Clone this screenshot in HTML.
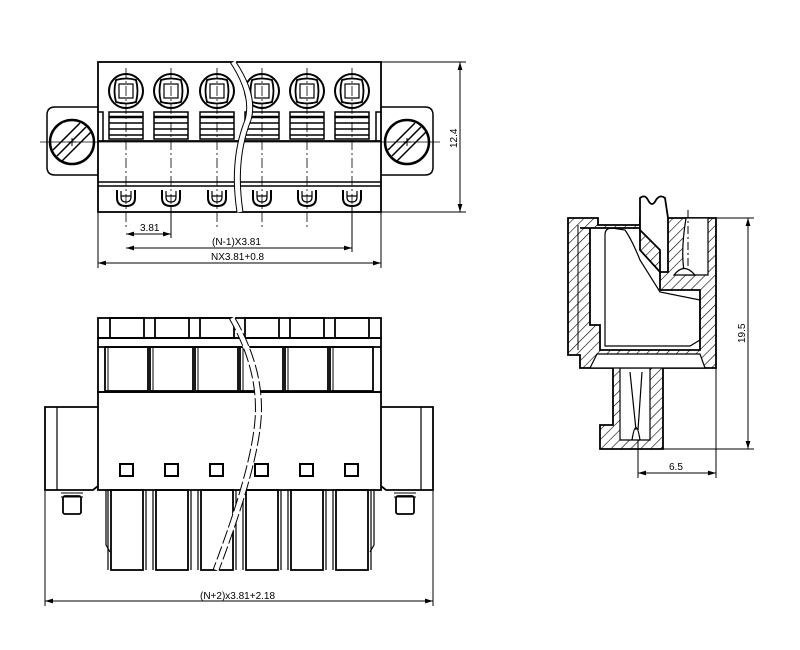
<!DOCTYPE html>
<html><head><meta charset="utf-8"><style>
html,body{margin:0;padding:0;background:#fff;}
svg{display:block;}
text{font-family:"Liberation Sans",sans-serif;font-size:10px;fill:#000;}
</style></head><body>
<svg width="800" height="650" viewBox="0 0 800 650" xmlns="http://www.w3.org/2000/svg">
<defs>
<pattern id="h" width="7" height="7" patternUnits="userSpaceOnUse" patternTransform="rotate(45)"><line x1="0" y1="0" x2="0" y2="7" stroke="#000" stroke-width="1.2"/></pattern>
<marker id="a" viewBox="0 0 10 6" refX="10" refY="3" markerWidth="8" markerHeight="5" orient="auto-start-reverse"><path d="M0,0L10,3L0,6z" fill="#000"/></marker>
<g id="topcell" fill="none" stroke="#000">
  <circle cx="0" cy="91" r="17" stroke-width="2"/>
  <path d="M-10,80 Q0,77 10,80 Q13,91 10,102 Q0,105 -10,102 Q-13,91 -10,80z" stroke-width="1.8"/>
  <rect x="-7" y="84" width="14" height="14" stroke-width="1.2"/>
  <rect x="-17" y="112" width="34" height="27" stroke-width="1.5"/>
  <line x1="-17" y1="117" x2="17" y2="117" stroke-width="2.5"/>
  <line x1="-17" y1="123" x2="17" y2="123" stroke-width="1.5"/>
  <line x1="-17" y1="129" x2="17" y2="129" stroke-width="1.5"/>
  <line x1="-17" y1="135" x2="17" y2="135" stroke-width="1.5"/>
  <path d="M-9,190 L-9,198 Q-9,206 0,206 Q9,206 9,198 L9,190" stroke-width="2"/>
  <path d="M-5,191 L-5,197 Q-5,202 0,202 Q5,202 5,197 L5,191 M-5,196 L5,196" stroke-width="1.2"/>
  <line x1="0" y1="68" x2="0" y2="230" stroke-width="0.8" stroke-dasharray="10,3,2,3"/>
</g>
<g id="botcell" fill="none" stroke="#000" stroke-width="1.8">
  <rect x="-17" y="318" width="34" height="20"/>
  <rect x="-22" y="347" width="43" height="44"/>
  <line x1="-19" y1="347" x2="-19" y2="391" stroke-width="1"/>
  <rect x="-7" y="464" width="13" height="12" stroke-width="2"/>
  <rect x="-16" y="490" width="32" height="80"/>
  <line x1="-19" y1="490" x2="-19" y2="570" stroke-width="1.2"/>
  <line x1="19" y1="490" x2="19" y2="570" stroke-width="1.2"/>
</g>
</defs>

<!-- TOP VIEW -->
<g fill="none" stroke="#000">
  <path d="M98,107 L55,107 Q47,107 47,115 L47,167 Q47,175 55,175 L98,175" stroke-width="1.5"/>
  <path d="M381,107 L425,107 Q433,107 433,115 L433,167 Q433,175 425,175 L381,175" stroke-width="1.5"/>
  <circle cx="72" cy="142" r="22" stroke-width="2.5"/>
  <circle cx="407" cy="142" r="22" stroke-width="2.5"/>
  <path d="M57,156 L86,127 M62,161 L91,132 M53,150 L80,123" stroke-width="1.5"/>
  <path d="M392,156 L421,127 M397,161 L426,132 M388,150 L415,123" stroke-width="1.5"/>
  <path d="M72,138v8M68,142h8M407,138v8M403,142h8" stroke-width="1"/>
  <line x1="40" y1="142" x2="440" y2="142" stroke-width="0.8"/>
  <rect x="98" y="62" width="283" height="150" stroke-width="1.8"/>
  <line x1="98" y1="141" x2="381" y2="141" stroke-width="1.8"/>
  <line x1="98" y1="182" x2="381" y2="182" stroke-width="1.5"/>
  <line x1="98" y1="186" x2="381" y2="186" stroke-width="1.5"/>
  <path d="M98,112 h5 v29 M381,112 h-5 v29" stroke-width="1.5"/>
</g>
<use href="#topcell" x="126"/><use href="#topcell" x="171"/><use href="#topcell" x="217"/>
<use href="#topcell" x="262"/><use href="#topcell" x="307"/><use href="#topcell" x="352"/>
<path d="M233,62 Q255,95 248,120 Q232,160 240,212" fill="none" stroke="#fff" stroke-width="6"/>
<path d="M230,62 Q252,95 245,120 Q229,160 237,212 M236,62 Q258,95 251,120 Q235,160 243,212" fill="none" stroke="#000" stroke-width="1"/>
<!-- top dims -->
<g stroke="#000" stroke-width="1" fill="none">
  <line x1="98" y1="212" x2="98" y2="268"/><line x1="381" y1="212" x2="381" y2="268"/>
  <line x1="171" y1="206" x2="171" y2="238"/><line x1="352" y1="206" x2="352" y2="252"/>
  <line x1="126" y1="234" x2="171" y2="234" marker-start="url(#a)" marker-end="url(#a)"/>
  <line x1="126" y1="248" x2="352" y2="248" marker-start="url(#a)" marker-end="url(#a)"/>
  <line x1="98" y1="263" x2="381" y2="263" marker-start="url(#a)" marker-end="url(#a)"/>
  <line x1="381" y1="62" x2="466" y2="62"/><line x1="381" y1="212" x2="466" y2="212"/>
  <line x1="460" y1="62" x2="460" y2="212" marker-start="url(#a)" marker-end="url(#a)"/>
</g>
<text x="140" y="231">3.81</text>
<text x="212" y="245">(N-1)X3.81</text>
<text x="211" y="260">NX3.81+0.8</text>
<text transform="translate(457,148) rotate(-90)">12.4</text>

<!-- BOTTOM VIEW -->
<g fill="none" stroke="#000" stroke-width="1.8">
  <rect x="98" y="318" width="283" height="20"/>
  <rect x="98" y="338" width="283" height="54"/>
  <line x1="98" y1="347" x2="381" y2="347"/>
  <rect x="98" y="392" width="283" height="98"/>
  <path d="M98,407 H45 V490 H93 L98,486"/><line x1="57" y1="407" x2="57" y2="490" stroke-width="1.2"/>
  <path d="M381,407 H433 V490 H386 L381,486"/><line x1="421" y1="407" x2="421" y2="490" stroke-width="1.2"/>
  <rect x="63" y="496" width="18" height="18" rx="2"/>
  <path d="M61,493h22M61,497h22" stroke-width="1"/>
  <rect x="396" y="496" width="18" height="18" rx="2"/>
  <path d="M394,493h22M394,497h22" stroke-width="1"/>
  <path d="M106,490 V545 L110,552 M374,490 V545 L370,552" stroke-width="1.2"/>
</g>
<use href="#botcell" x="127"/><use href="#botcell" x="172"/><use href="#botcell" x="217"/>
<use href="#botcell" x="262"/><use href="#botcell" x="307"/><use href="#botcell" x="352"/>
<path d="M232,318 Q262,370 258,420 Q254,470 216,570" fill="none" stroke="#fff" stroke-width="6"/>
<path d="M229,318 Q259,370 255,420 Q251,470 213,570 M235,318 Q265,370 261,420 Q257,470 219,570" fill="none" stroke="#000" stroke-width="1" stroke-dasharray="14,3"/>
<g stroke="#000" stroke-width="1" fill="none">
  <line x1="45" y1="490" x2="45" y2="606"/><line x1="433" y1="490" x2="433" y2="606"/>
  <line x1="45" y1="601" x2="433" y2="601" marker-start="url(#a)" marker-end="url(#a)"/>
</g>
<text x="200" y="599">(N+2)x3.81+2.18</text>

<!-- SIDE VIEW -->
<g stroke="#000" stroke-width="1.8">
  <path d="M568,218 H598 V225 H640 V218 H716 V368 H663 V449 H600 V425 H613 V368 H580 V355 H568z" fill="url(#h)"/>
  <path d="M580,228 H640 V250 L660,272 V290 H700 V350 H600 V325 H590 V228z" fill="#fff"/>
  <path d="M686,218 H708 V275 H685 Q680,255 686,218z" fill="#fff" stroke-width="1.2"/>
  <path d="M620,368 H650 V440 H620z" fill="#fff" stroke-width="1.2"/>
  <path d="M597,354 H700 L705,368 H590z" fill="#fff" stroke-width="1.2"/>
  <path d="M640,218 V198 Q645,194 648,200 Q652,208 656,200 Q660,194 665,198 L668,218 V272 H660 V250 L640,230z" fill="#fff"/>
  <path d="M605,235 Q605,228 612,228 L625,230 Q632,240 640,260 L660,292 L700,300 V340 L690,346 H605z" fill="none" stroke-width="1.2"/>
  <path d="M630,372 L636,430 M642,372 L638,430 M632,440 Q636,415 640,440" fill="none" stroke-width="1.2"/>
  <path d="M674,275 Q684,262 695,275z" fill="#fff" stroke-width="1.2"/>
  <line x1="578" y1="225" x2="578" y2="350" stroke-width="1"/>
</g>
<g stroke="#000" stroke-width="1" fill="none">
  <line x1="716" y1="218" x2="754" y2="218"/><line x1="663" y1="449" x2="754" y2="449"/>
  <line x1="748" y1="218" x2="748" y2="449" marker-start="url(#a)" marker-end="url(#a)"/>
  <line x1="638" y1="440" x2="638" y2="478"/><line x1="716" y1="368" x2="716" y2="478"/>
  <line x1="638" y1="473" x2="716" y2="473" marker-start="url(#a)" marker-end="url(#a)"/>
  <line x1="688" y1="210" x2="688" y2="270" stroke-dasharray="8,3,2,3"/>
</g>
<text x="669" y="470">6.5</text>
<text transform="translate(745,343) rotate(-90)">19.5</text>
</svg>
</body></html>
